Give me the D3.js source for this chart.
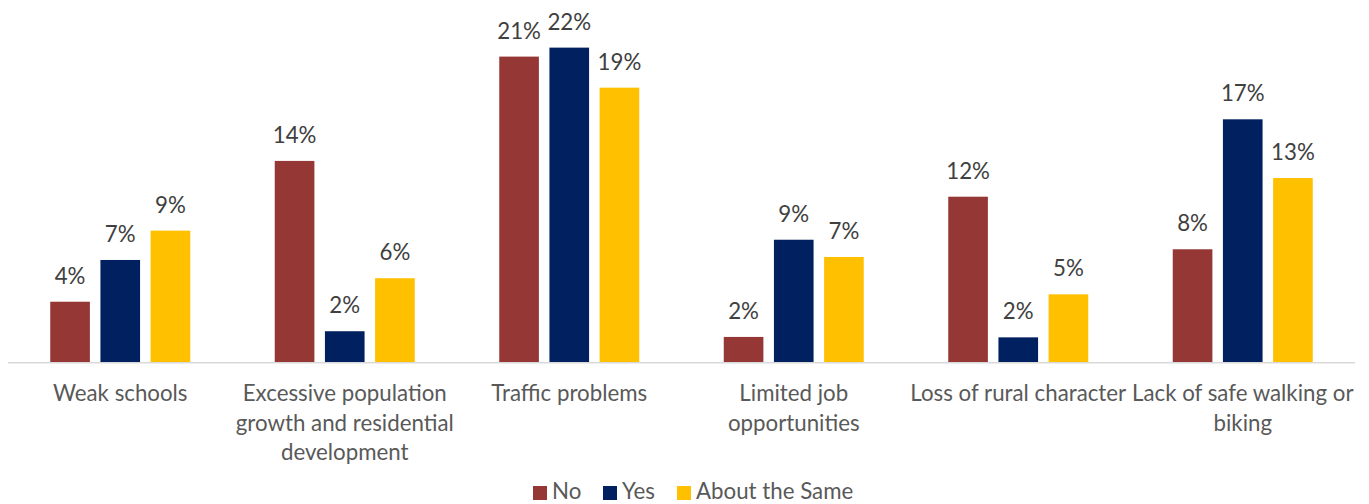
<!DOCTYPE html>
<html>
<head>
<meta charset="utf-8">
<script src="https://cdn.jsdelivr.net/npm/d3@7"></script>
<style>
  html, body { margin: 0; padding: 0; background: #ffffff; }
  svg { display: block; }
</style>
</head>
<body>
<svg id="chart" width="1369" height="504"></svg>
<script>
// ---- Data ----
const categories = [
  "Weak schools",
  "Excessive population\ngrowth and residential\ndevelopment",
  "Traffic problems",
  "Limited job\nopportunities",
  "Loss of rural character",
  "Lack of safe walking or\nbiking"
];
const seriesNames = ["No", "Yes", "About the Same"];
const seriesColors = ["#953735", "#002060", "#FFC000"];
const valuesNo    = [0.0425, 0.1413, 0.2145, 0.0178, 0.1162, 0.0793];
const valuesYes   = [0.0718, 0.0218, 0.2208, 0.0860, 0.0175, 0.1705];
const valuesSame  = [0.0924, 0.0590, 0.1927, 0.0739, 0.0477, 0.1293];
const yDomain = [0, 0.25];

const seriesValues = [valuesNo, valuesYes, valuesSame];

// ---- Layout ----
const svg = d3.select("#chart");
const plot = { left: 8, right: 1355, top: 6, bottom: 362.3 };
const FONT = "Lato, 'Noto Sans', sans-serif";

// fit the font size so text widths resemble the original
const probe = svg.append("text").attr("font-family", FONT).attr("font-size", 20)
  .text("Loss of rural character");
const probeW = probe.node().getComputedTextLength();
probe.remove();
const fs = 20 * 216 / probeW;

const x0 = d3.scaleBand().domain(categories).range([plot.left, plot.right])
  .paddingInner(0.3764).paddingOuter(0.1882);
const x1 = d3.scaleBand().domain(seriesNames).range([0, x0.bandwidth()])
  .paddingInner(0.21);
const y = d3.scaleLinear().domain(yDomain).range([plot.bottom, plot.top]);

const fmt = d3.format(".0%");

// bars
const groups = svg.append("g").selectAll("g")
  .data(categories)
  .join("g")
  .attr("transform", c => `translate(${x0(c)},0)`);

groups.selectAll("rect")
  .data((c, i) => seriesNames.map((s, j) => ({ s, j, v: seriesValues[j][i] })))
  .join("rect")
  .attr("x", d => x1(d.s))
  .attr("width", x1.bandwidth())
  .attr("y", d => y(d.v))
  .attr("height", d => y(0) - y(d.v))
  .attr("fill", d => seriesColors[d.j]);

groups.selectAll("text.lbl")
  .data((c, i) => seriesNames.map((s, j) => ({ s, j, v: seriesValues[j][i] })))
  .join("text")
  .attr("class", "lbl")
  .attr("x", d => x1(d.s) + x1.bandwidth() / 2)
  .attr("y", d => y(d.v) - 18)
  .attr("text-anchor", "middle")
  .attr("font-family", FONT)
  .attr("font-size", fs)
  .attr("fill", "#404040")
  .text(d => fmt(d.v));

// x axis
const xAxis = d3.axisBottom(x0).tickSize(0).tickFormat("");
const axG = svg.append("g")
  .attr("transform", `translate(0,${plot.bottom})`)
  .call(xAxis);
axG.select(".domain").attr("stroke", "#d9d9d9").attr("stroke-width", 1.5)
  .attr("d", `M${plot.left},0.5H${plot.right}`);

// category labels (multi-line)
const catG = svg.append("g");
categories.forEach(c => {
  const lines = c.split("\n");
  const t = catG.append("text")
    .attr("text-anchor", "middle")
    .attr("font-family", FONT)
    .attr("font-size", fs)
    .attr("fill", "#595959");
  lines.forEach((ln, k) => {
    t.append("tspan")
      .attr("x", x0(c) + x0.bandwidth() / 2)
      .attr("y", 401 + k * 29.5)
      .text(ln);
  });
});

// legend
const legend = svg.append("g");
const legX = [533, 603, 677];
seriesNames.forEach((s, j) => {
  legend.append("rect")
    .attr("x", legX[j]).attr("y", 486)
    .attr("width", 14).attr("height", 14)
    .attr("fill", seriesColors[j]);
  legend.append("text")
    .attr("x", legX[j] + 19).attr("y", 499.3)
    .attr("font-family", FONT)
    .attr("font-size", fs)
    .attr("fill", "#595959")
    .text(s);
});
</script>
</body>
</html>
